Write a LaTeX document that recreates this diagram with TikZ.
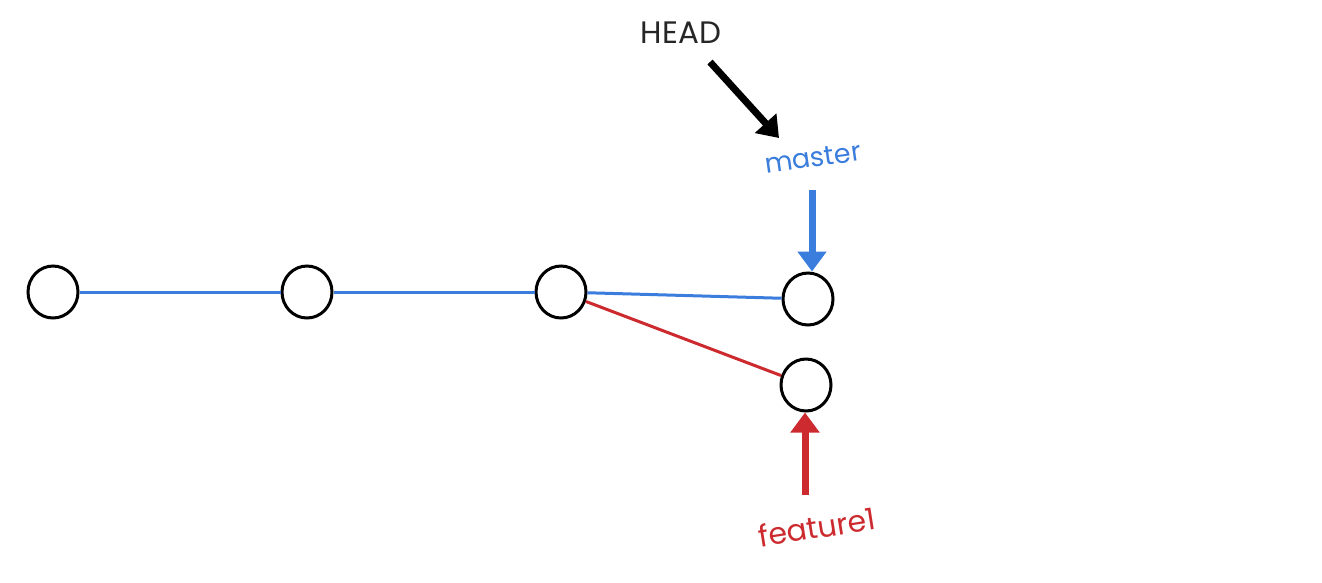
\documentclass[tikz,border=0pt]{standalone}
\usepackage{fontspec}
\setmainfont{Poppins}
\usetikzlibrary{arrows.meta,shapes.geometric}
\definecolor{gblue}{HTML}{3A7DDC}
\definecolor{gred}{HTML}{CC2A2E}
\begin{document}
\begin{tikzpicture}[x=1pt,y=-1pt,
  commit/.style={draw=black,line width=3pt,ellipse,minimum width=50pt,minimum height=52pt,inner sep=0pt},
  edge/.style={line width=3pt},
  ptr/.style={line width=7pt,-{Triangle[length=20pt,width=28pt]}},
  lbl/.style={inner sep=0pt}]
\useasboundingbox (0,0) rectangle (1322,582);
\node[commit] (c1) at (53,292) {};
\node[commit] (c2) at (307,292) {};
\node[commit] (c3) at (561,292) {};
\node[commit] (c4) at (808,299) {};
\node[commit] (c5) at (806,385) {};
\draw[edge,gblue] (c1) -- (c2);
\draw[edge,gblue] (c2) -- (c3);
\draw[edge,gblue] (c3) -- (c4);
\draw[edge,gred] (c3) -- (c5);
\node[lbl,text=black!85,font=\fontsize{31}{34}\selectfont] (head) at (681,33) {HEAD};
\node[lbl,text=gblue,rotate=8,font=\fontsize{27}{30}\selectfont] (master) at (813,158) {master};
\node[lbl,text=gred,rotate=9,font=\fontsize{30}{33}\selectfont] (feat) at (817,527) {feature1};
\coordinate (h1) at (710,62);
\coordinate (h2) at (779,138);
\coordinate (m1) at (812,190);
\coordinate (f1) at (805,495);
\draw[ptr,black] (h1) -- (h2);
\draw[ptr,gblue] (m1) -- (m1 |- c4.north);
\draw[ptr,gred] (f1) -- (f1 |- c5.south);
\end{tikzpicture}
\end{document}
